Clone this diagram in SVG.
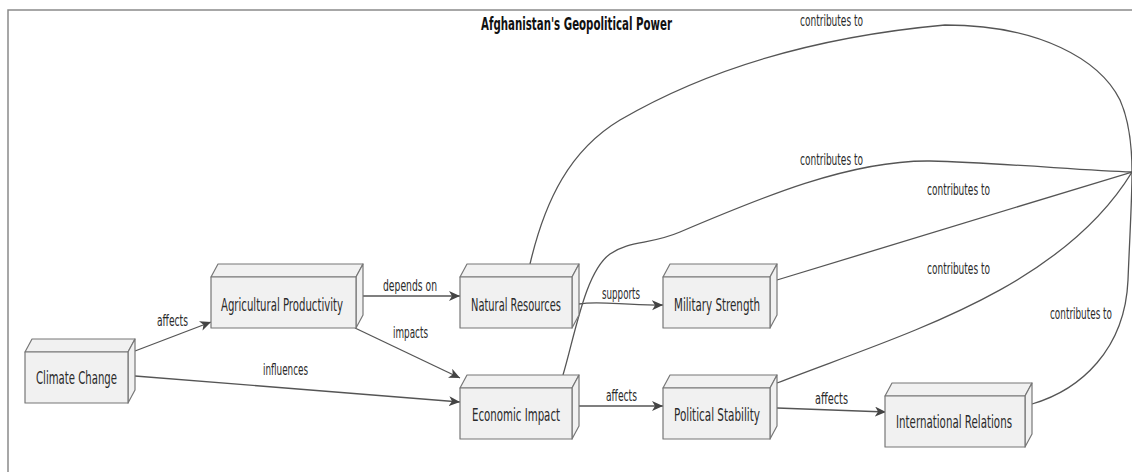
<svg xmlns="http://www.w3.org/2000/svg" width="1132" height="472" viewBox="0 0 1132 472">
<defs>
<style>
.frame{fill:none;stroke:#8a8a8a;stroke-width:1.5}
.face{fill:#f1f1f1;stroke:#777;stroke-width:1.2;stroke-linejoin:round}
.nl{font-family:"DejaVu Sans","Liberation Sans",sans-serif;font-size:18px;fill:#2a2a2a}
.el{font-family:"DejaVu Sans","Liberation Sans",sans-serif;font-size:15px;fill:#2a2a2a}
.title{font-family:"DejaVu Sans","Liberation Sans",sans-serif;font-size:17px;font-weight:bold;fill:#111}
.edge{fill:none;stroke:#555;stroke-width:1.3}
.arr{marker-end:url(#ah)}
</style>
<marker id="ah" markerUnits="userSpaceOnUse" markerWidth="13" markerHeight="11" refX="11" refY="5" orient="auto">
<path d="M0,0 L11,5 L0,10 L3,5 Z" fill="#444"/>
</marker>
</defs>
<rect width="1132" height="472" fill="#fff"/>
<path class="frame" d="M8,472 L8,10 L1132,10"/>
<text class="title" x="481" y="30" textLength="191" lengthAdjust="spacingAndGlyphs">Afghanistan's Geopolitical Power</text>

<g id="connectors">
<path class="edge arr" d="M135,351 L211,322"/>
<path class="edge arr" d="M135,376 L460,402"/>
<path class="edge arr" d="M363,296 L460,296"/>
<path class="edge arr" d="M355,328 L460,378"/>
<path class="edge arr" d="M579,304 C600,300 625,306 663,305"/>
<path class="edge arr" d="M579,406 L663,406"/>
<path class="edge arr" d="M777,408 L886,412"/>
<path class="edge" d="M530,264 C545,200 570,150 620,120 C680,85 780,40 945,25 C1040,25 1100,60 1120,100 C1128,118 1132,140 1132,172"/>
<path class="edge" d="M563,375 C575,335 585,272 610,254 C630,240 650,245 680,232 C760,198 850,160 930,161 C1000,163 1080,170 1132,172"/>
<path class="edge" d="M777,280 L1132,172"/>
<path class="edge" d="M777,383 C900,335 1060,290 1132,172"/>
<path class="edge" d="M1032,404 C1080,390 1125,350 1128,280 C1130,230 1132,200 1132,172"/>
<text class="el" x="157" y="326" textLength="31" lengthAdjust="spacingAndGlyphs">affects</text>
<text class="el" x="263" y="375" textLength="45" lengthAdjust="spacingAndGlyphs">influences</text>
<text class="el" x="383" y="291" textLength="54" lengthAdjust="spacingAndGlyphs">depends on</text>
<text class="el" x="393" y="338" textLength="35" lengthAdjust="spacingAndGlyphs">impacts</text>
<text class="el" x="602" y="299" textLength="38" lengthAdjust="spacingAndGlyphs">supports</text>
<text class="el" x="606" y="401" textLength="31" lengthAdjust="spacingAndGlyphs">affects</text>
<text class="el" x="815" y="404" textLength="33" lengthAdjust="spacingAndGlyphs">affects</text>
<text class="el" x="800" y="26" textLength="63" lengthAdjust="spacingAndGlyphs">contributes to</text>
<text class="el" x="800" y="165" textLength="63" lengthAdjust="spacingAndGlyphs">contributes to</text>
<text class="el" x="927" y="195" textLength="63" lengthAdjust="spacingAndGlyphs">contributes to</text>
<text class="el" x="927" y="274" textLength="63" lengthAdjust="spacingAndGlyphs">contributes to</text>
<text class="el" x="1050" y="319" textLength="62" lengthAdjust="spacingAndGlyphs">contributes to</text>
</g>

<g id="climate-change">
<path class="face" d="M25,352 L32,339 L135,339 L128,352 Z"/>
<path class="face" d="M128,352 L135,339 L135,390 L128,403 Z"/>
<rect class="face" x="25" y="352" width="103" height="51"/>
<text class="nl" x="36" y="384" textLength="81" lengthAdjust="spacingAndGlyphs">Climate Change</text>
</g>
<g id="agricultural-productivity">
<path class="face" d="M211,277 L218,264 L363,264 L356,277 Z"/>
<path class="face" d="M356,277 L363,264 L363,315 L356,328 Z"/>
<rect class="face" x="211" y="277" width="145" height="51"/>
<text class="nl" x="221" y="311" textLength="122" lengthAdjust="spacingAndGlyphs">Agricultural Productivity</text>
</g>
<g id="natural-resources">
<path class="face" d="M460,277 L467,264 L579,264 L572,277 Z"/>
<path class="face" d="M572,277 L579,264 L579,315 L572,328 Z"/>
<rect class="face" x="460" y="277" width="112" height="51"/>
<text class="nl" x="471" y="311" textLength="90" lengthAdjust="spacingAndGlyphs">Natural Resources</text>
</g>
<g id="military-strength">
<path class="face" d="M663,277 L670,264 L777,264 L770,277 Z"/>
<path class="face" d="M770,277 L777,264 L777,315 L770,328 Z"/>
<rect class="face" x="663" y="277" width="107" height="51"/>
<text class="nl" x="674" y="311" textLength="86" lengthAdjust="spacingAndGlyphs">Military Strength</text>
</g>
<g id="economic-impact">
<path class="face" d="M460,388 L467,375 L579,375 L572,388 Z"/>
<path class="face" d="M572,388 L579,375 L579,426 L572,439 Z"/>
<rect class="face" x="460" y="388" width="112" height="51"/>
<text class="nl" x="472" y="421" textLength="88" lengthAdjust="spacingAndGlyphs">Economic Impact</text>
</g>
<g id="political-stability">
<path class="face" d="M663,388 L670,375 L777,375 L770,388 Z"/>
<path class="face" d="M770,388 L777,375 L777,426 L770,439 Z"/>
<rect class="face" x="663" y="388" width="107" height="51"/>
<text class="nl" x="674" y="421" textLength="86" lengthAdjust="spacingAndGlyphs">Political Stability</text>
</g>
<g id="international-relations">
<path class="face" d="M885,396 L892,383 L1032,383 L1025,396 Z"/>
<path class="face" d="M1025,396 L1032,383 L1032,434 L1025,447 Z"/>
<rect class="face" x="885" y="396" width="140" height="51"/>
<text class="nl" x="896" y="428" textLength="116" lengthAdjust="spacingAndGlyphs">International Relations</text>
</g>
</svg>
